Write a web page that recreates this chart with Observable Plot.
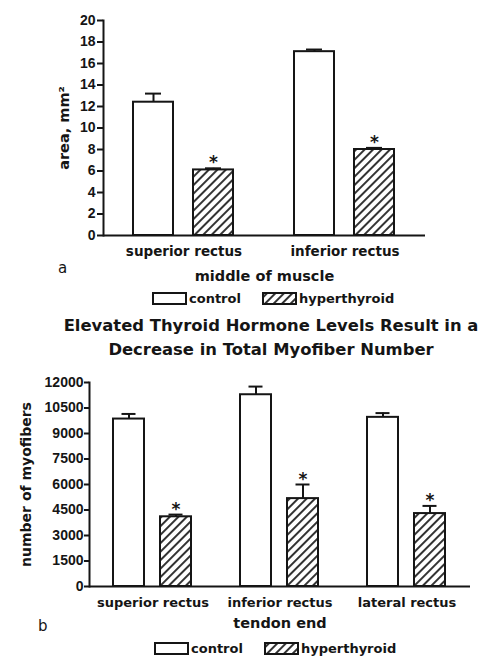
<!DOCTYPE html>
<html>
<head>
<meta charset="utf-8">
<script src="https://cdn.jsdelivr.net/npm/d3@7"></script>
<script src="https://cdn.jsdelivr.net/npm/@observablehq/plot@0.6"></script>
<style>
html, body { margin: 0; padding: 0; background: #fff; width: 497px; height: 661px; overflow: hidden; }
body { position: relative; font-family: "DejaVu Sans", sans-serif; color: #151515; }
.abs { position: absolute; }
#chartA { left: 0; top: 0; }
#chartB { left: 0; top: 360px; }
#title { left: 271px; top: 314px; transform: translateX(-50%); white-space: nowrap; text-align: center;
  font-weight: bold; font-size: 16.4px; line-height: 24px; }
.panel { font-size: 15px; line-height: 15px; font-weight: normal; }
#legendA { left: 153px; top: 288px; }
#legendB { left: 155px; top: 638px; }
.lg-swatches { margin: 0 !important; min-height: 0 !important; height: 20px; display: flex !important; align-items: center;
  font: bold 13px "DejaVu Sans", sans-serif !important; color: #151515 !important; }
.lg-swatch { margin-right: 22px !important; display: inline-flex; align-items: center; }
.lg-swatch > svg { margin-right: 3px !important; overflow: visible; }
.lg-swatch > svg rect { stroke: #151515; stroke-width: 2; }
svg [aria-label="y-axis tick label"] { font-family: "Liberation Sans", Arial, sans-serif; font-size: 14px; font-weight: bold; }
svg [aria-label="y-axis label"] { font-family: "DejaVu Sans", sans-serif; font-size: 14.5px; font-weight: bold; }
svg [aria-label="fx-axis label"] { font-family: "DejaVu Sans", sans-serif; font-size: 14.5px; font-weight: bold; }
#chartA [aria-label="fx-axis tick label"] { font-size: 13.5px; }
#chartB [aria-label="fx-axis tick label"] { font-size: 13px; }
#chartB [aria-label="y-axis label"] { font-size: 14px; }
</style>
</head>
<body>
<svg width="0" height="0" style="position:absolute">
  <defs>
    <pattern id="hatch" patternUnits="userSpaceOnUse" width="6" height="6" patternTransform="rotate(45)">
      <rect width="6" height="6" fill="#fff"></rect>
      <line x1="3" y1="0" x2="3" y2="6" stroke="#333" stroke-width="2"></line>
    </pattern>
  </defs>
</svg>
<div id="chartA" class="abs"></div>
<div id="legendA" class="abs"></div>
<div id="title" class="abs">Elevated Thyroid Hormone Levels Result in a<br>Decrease in Total Myofiber Number</div>
<div id="chartB" class="abs"></div>
<div id="legendB" class="abs"></div>
<span class="abs panel" style="left:58px; top:261px;">a</span>
<span class="abs panel" style="left:38px; top:619px;">b</span>
<script>
// ---- data ----
const groups = ["control", "hyperthyroid"];

// panel a: area, mm² (middle of muscle)
const musclesA = ["superior rectus", "inferior rectus"];
const controlA = [12.4, 17.1];
const controlErrA = [0.8, 0.2];
const hyperA = [6.1, 8.0];
const hyperErrA = [0.15, 0.15];
const hyperStarA = ["*", "*"];
const yTicksA = [0, 2, 4, 6, 8, 10, 12, 14, 16, 18, 20];
const yLabelA = "area, mm²";
const fxLabelA = "middle of muscle";

// panel b: number of myofibers (tendon end)
const musclesB = ["superior rectus", "inferior rectus", "lateral rectus"];
const controlB = [9850, 11280, 9950];
const controlErrB = [300, 480, 250];
const hyperB = [4100, 5170, 4290];
const hyperErrB = [130, 830, 450];
const hyperStarB = ["*", "*", "*"];
const yTicksB = [0, 1500, 3000, 4500, 6000, 7500, 9000, 10500, 12000];
const yLabelB = "number of myofibers";
const fxLabelB = "tendon end";

const fills = ["white", "url(#hatch)"];
const ink = "#151515";

function buildRows(muscles, control, controlErr, hyper, hyperErr, stars) {
  const rows = [];
  muscles.forEach((m, i) => {
    rows.push({muscle: m, group: groups[0], value: control[i], err: controlErr[i], star: ""});
    rows.push({muscle: m, group: groups[1], value: hyper[i], err: hyperErr[i], star: stars[i]});
  });
  return rows;
}

function chart(o) {
  const top = d => d.value + d.err;
  return Plot.plot({
    width: 497, height: o.height,
    marginTop: o.marginTop, marginBottom: o.marginBottom, marginLeft: o.marginLeft, marginRight: o.marginRight,
    style: {background: "transparent", color: ink, fontFamily: "DejaVu Sans", fontWeight: "bold", overflow: "visible"},
    fx: {domain: o.muscles, padding: 0},
    x: {domain: groups, paddingInner: 0.33, paddingOuter: 0.49, axis: null},
    y: {domain: o.yDomain},
    color: {type: "ordinal", domain: groups, range: fills},
    marks: [
      Plot.barY(o.rows, {fx: "muscle", x: "group", y: "value", fill: "group", stroke: ink, strokeWidth: 2}),
      Plot.ruleX(o.rows, {fx: "muscle", x: "group", y1: "value", y2: top, stroke: ink, strokeWidth: 2}),
      Plot.tickY(o.rows, {fx: "muscle", x: "group", y: top, stroke: ink, strokeWidth: 2, insetLeft: o.capInset, insetRight: o.capInset}),
      Plot.text(o.rows, {filter: d => d.star, fx: "muscle", x: "group", y: top, text: "star", lineAnchor: "bottom", dy: 0, fontSize: 17, fill: ink}),
      Plot.ruleY([0], {stroke: ink, strokeWidth: 2}),
      Plot.frame({anchor: "left", facetAnchor: "left", stroke: ink, strokeWidth: 2}),
      Plot.axisY({ticks: o.yTicks, tickFormat: "d", tickSize: o.tickSize, tickPadding: o.tickPadding, strokeWidth: 2,
        label: o.yLabel, labelArrow: "none", labelAnchor: "center", labelOffset: o.yLabelOffset}),
      Plot.axisFx({anchor: "bottom", tickSize: 0, tickPadding: 11, label: o.fxLabel, labelArrow: "none", labelAnchor: "center", labelOffset: o.fxLabelOffset})
    ]
  });
}

const chartA = chart({
  rows: buildRows(musclesA, controlA, controlErrA, hyperA, hyperErrA, hyperStarA),
  muscles: musclesA, yDomain: [0, 20], yTicks: yTicksA, yLabel: yLabelA, fxLabel: fxLabelA,
  height: 285, marginTop: 20, marginBottom: 50, marginLeft: 102, marginRight: 72,
  tickSize: 6, tickPadding: 2, capInset: 12, yLabelOffset: 45, fxLabelOffset: 45
});
document.getElementById("chartA").appendChild(chartA);

const chartB = chart({
  rows: buildRows(musclesB, controlB, controlErrB, hyperB, hyperErrB, hyperStarB),
  muscles: musclesB, yDomain: [0, 12000], yTicks: yTicksB, yLabel: yLabelB, fxLabel: fxLabelB,
  height: 275, marginTop: 22, marginBottom: 49, marginLeft: 89, marginRight: 27,
  tickSize: 5, tickPadding: 1, capInset: 8.5, yLabelOffset: 68.5, fxLabelOffset: 41
});
document.getElementById("chartB").appendChild(chartB);

function legend() {
  return Plot.legend({color: {type: "ordinal", domain: groups, range: fills}, legend: "swatches",
    swatchWidth: 33, swatchHeight: 11, className: "lg"});
}
document.getElementById("legendA").appendChild(legend());
document.getElementById("legendB").appendChild(legend());
</script>
</body>
</html>
